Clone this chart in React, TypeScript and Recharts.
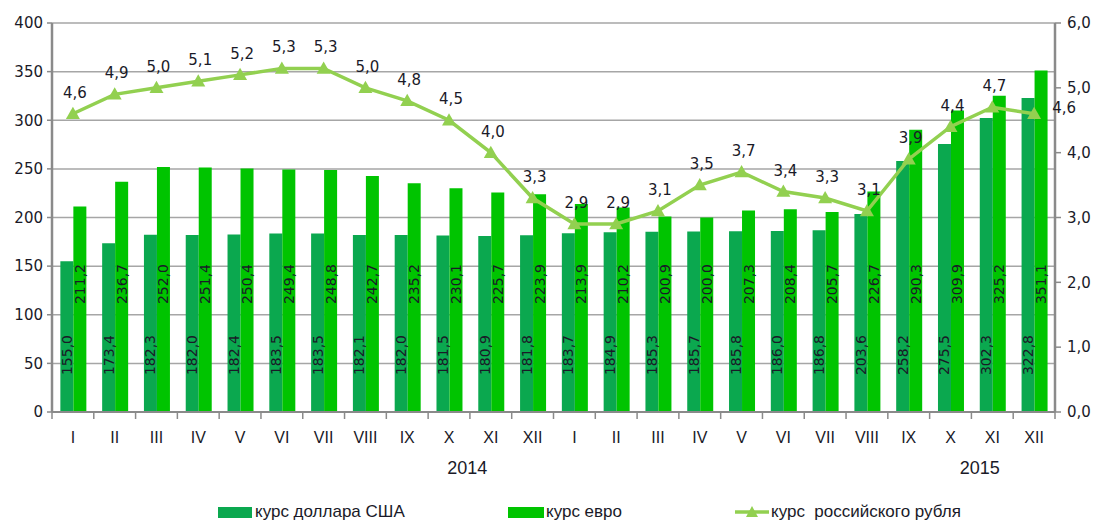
import React from 'react';
import { Bar, CartesianGrid, ComposedChart, LabelList, Legend, Line, XAxis, YAxis } from 'recharts';

const months = [
  'I', 'II', 'III', 'IV', 'V', 'VI', 'VII', 'VIII', 'IX', 'X', 'XI', 'XII',
  'I', 'II', 'III', 'IV', 'V', 'VI', 'VII', 'VIII', 'IX', 'X', 'XI', 'XII',
];
const years = ['2014', '2015'];
const usd = [
  155.0, 173.4, 182.3, 182.0, 182.4, 183.5, 183.5, 182.1, 182.0, 181.5, 180.9, 181.8,
  183.7, 184.9, 185.3, 185.7, 185.8, 186.0, 186.8, 203.6, 258.2, 275.5, 302.3, 322.8,
];
const eur = [
  211.2, 236.7, 252.0, 251.4, 250.4, 249.4, 248.8, 242.7, 235.2, 230.1, 225.7, 223.9,
  213.9, 210.2, 200.9, 200.0, 207.3, 208.4, 205.7, 226.7, 290.3, 309.9, 325.2, 351.1,
];
const rub = [
  4.6, 4.9, 5.0, 5.1, 5.2, 5.3, 5.3, 5.0, 4.8, 4.5, 4.0, 3.3,
  2.9, 2.9, 3.1, 3.5, 3.7, 3.4, 3.3, 3.1, 3.9, 4.4, 4.7, 4.6,
];
const seriesNames = ['курс доллара США', 'курс евро', 'курс  российского рубля'];
const leftTicks = [0, 50, 100, 150, 200, 250, 300, 350, 400];
const rightTicks = [0, 1, 2, 3, 4, 5, 6];

const data = months.map((m, i) => ({ key: `${m}-${i}`, month: m, usd: usd[i], eur: eur[i], rub: rub[i] }));

const USD_COLOR = '#0BA84F';
const EUR_COLOR = '#00C400';
const RUB_COLOR = '#92D050';
const TEXT = '#1a1a28';
const AXIS = '#8a8a8a';
const FONT = '"DejaVu Sans", sans-serif';
const NARROW = '"Liberation Sans", Arial, sans-serif';

const fmt = (v: number) => v.toFixed(1).replace('.', ',');

const MonthTick = (props: any) => {
  const { x, y, payload, index } = props;
  const half = payload?.offset || 20.9;
  const i = index ?? payload.index;
  return (
    <g>
      <line x1={x - half} y1={y} x2={x - half} y2={y + 7} stroke={AXIS} strokeWidth={1.5} />
      {i === months.length - 1 && (
        <line x1={x + half} y1={y} x2={x + half} y2={y + 7} stroke={AXIS} strokeWidth={1.5} />
      )}
      <text x={x} y={y + 31} textAnchor="middle" fontFamily={NARROW} fontSize={16} fill={TEXT}>
        {data[i]?.month}
      </text>
      {i === 9 && (
        <text x={x + half * 0.87} y={y + 62} textAnchor="middle" fontFamily={NARROW} fontSize={18} fill={TEXT}>
          {years[0]}
        </text>
      )}
      {i === 21 && (
        <text x={x + half * 1.4} y={y + 62} textAnchor="middle" fontFamily={NARROW} fontSize={18} fill={TEXT}>
          {years[1]}
        </text>
      )}
    </g>
  );
};

const Triangle = (props: any) => {
  const { cx, cy } = props;
  if (cx == null || cy == null) return null;
  const s = 7;
  return <polygon points={`${cx},${cy - s} ${cx - s},${cy + s * 0.75} ${cx + s},${cy + s * 0.75}`} fill={RUB_COLOR} />;
};

const barLabel = (rise: number) => (props: any) => {
  const { x, y, width, height, value } = props;
  const cx = x + width / 2;
  const cy = y + height - rise;
  return (
    <text
      x={cx}
      y={cy}
      transform={`rotate(-90 ${cx} ${cy})`}
      textAnchor="middle"
      dominantBaseline="central"
      fontFamily={FONT}
      fontSize={14}
      fill={TEXT}
    >
      {fmt(value)}
    </text>
  );
};

const lineLabel = (props: any) => {
  const { x, y, value, index } = props;
  const last = index === rub.length - 1;
  return (
    <text
      x={last ? x + 30 : x + 2}
      y={last ? y - 1 : y - 16}
      textAnchor="middle"
      fontFamily={FONT}
      fontSize={15}
      fill={TEXT}
    >
      {fmt(value)}
    </text>
  );
};

const LegendContent = () => (
  <div
    style={{
      display: 'flex',
      alignItems: 'center',
      height: 16,
      paddingLeft: 218,
      fontFamily: NARROW,
      fontSize: 17,
      color: TEXT,
      whiteSpace: 'pre',
    }}
  >
    <div style={{ width: 290, display: 'flex', alignItems: 'center' }}>
      <span style={{ width: 34, height: 11, background: USD_COLOR, marginRight: 3, display: 'inline-block' }} />
      {seriesNames[0]}
    </div>
    <div style={{ width: 227, display: 'flex', alignItems: 'center' }}>
      <span style={{ width: 36, height: 11, background: EUR_COLOR, marginRight: 2, display: 'inline-block' }} />
      {seriesNames[1]}
    </div>
    <div style={{ display: 'flex', alignItems: 'center' }}>
      <svg width={34} height={14} style={{ marginRight: 2 }}>
        <line x1={0} y1={7} x2={34} y2={7} stroke={RUB_COLOR} strokeWidth={3.5} />
        <polygon points="17,1 11,12 23,12" fill={RUB_COLOR} />
      </svg>
      {seriesNames[2]}
    </div>
  </div>
);

export default function App() {
  return (
    <div style={{ position: 'absolute', left: 0, top: 0, background: '#fff' }}>
      <ComposedChart
        width={1098}
        height={520}
        data={data}
        margin={{ top: 23, right: 0, left: 0, bottom: 0 }}
        barCategoryGap="20%"
        barGap={0}
      >
        <CartesianGrid yAxisId="left" vertical={false} stroke="#a6a6a6" strokeWidth={1.5} />
        <XAxis
          dataKey="key"
          height={92}
          interval={0}
          tick={<MonthTick />}
          tickLine={false}
          tickSize={0}
          tickMargin={0}
          axisLine={{ stroke: AXIS, strokeWidth: 2 }}
        />
        <YAxis
          yAxisId="left"
          width={52}
          domain={[0, 400]}
          ticks={leftTicks}
          interval={0}
          tickSize={5}
          tickMargin={4}
          axisLine={{ stroke: AXIS, strokeWidth: 2.5 }}
          tickLine={{ stroke: AXIS, strokeWidth: 1.5 }}
          tick={{ fill: TEXT, fontFamily: FONT, fontSize: 15 }}
        />
        <YAxis
          yAxisId="right"
          orientation="right"
          width={43}
          domain={[0, 6]}
          ticks={rightTicks}
          interval={0}
          tickSize={6}
          tickMargin={6}
          tickFormatter={fmt}
          axisLine={{ stroke: AXIS, strokeWidth: 2.5 }}
          tickLine={{ stroke: AXIS, strokeWidth: 1.5 }}
          tick={{ fill: TEXT, fontFamily: FONT, fontSize: 15 }}
        />
        <Legend verticalAlign="bottom" content={<LegendContent />} wrapperStyle={{ left: 0, bottom: 0 }} />
        <Bar yAxisId="left" dataKey="usd" name={seriesNames[0]} fill={USD_COLOR} isAnimationActive={false}>
          <LabelList dataKey="usd" content={barLabel(57)} />
        </Bar>
        <Bar yAxisId="left" dataKey="eur" name={seriesNames[1]} fill={EUR_COLOR} isAnimationActive={false}>
          <LabelList dataKey="eur" content={barLabel(128)} />
        </Bar>
        <Line
          yAxisId="right"
          type="linear"
          dataKey="rub"
          name={seriesNames[2]}
          stroke={RUB_COLOR}
          strokeWidth={3.5}
          dot={<Triangle />}
          activeDot={false}
          isAnimationActive={false}
        >
          <LabelList dataKey="rub" content={lineLabel} />
        </Line>
      </ComposedChart>
    </div>
  );
}
